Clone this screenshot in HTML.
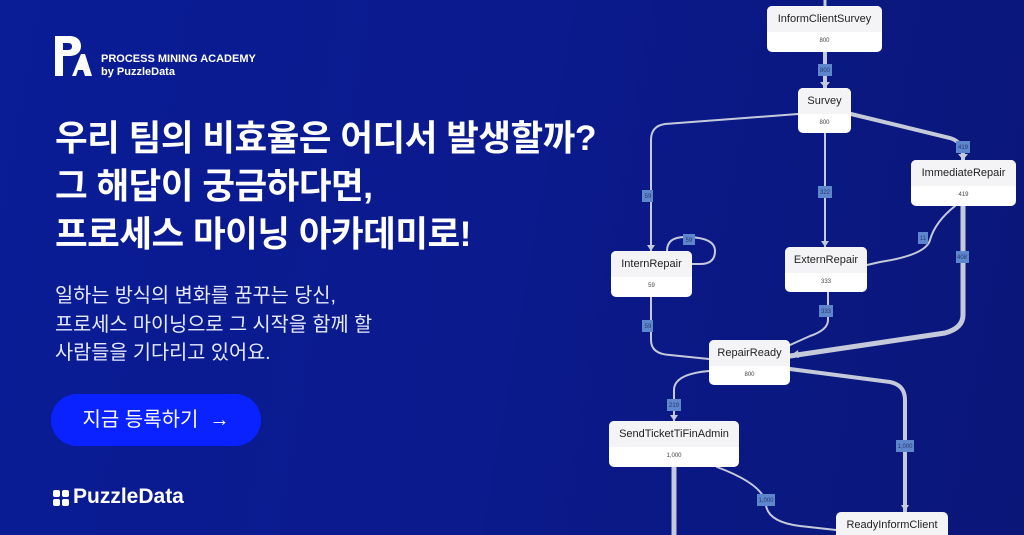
<!DOCTYPE html>
<html style="overflow:hidden"><head><meta charset="utf-8"><style>
html,body{margin:0;width:1024px;height:535px;overflow:hidden}
body{background:linear-gradient(100deg,#0a1c96 0%,#0b1a8c 50%,#0a1678 100%);font-family:"Liberation Sans","Noto Sans CJK KR",sans-serif;color:#fff;position:relative}
.abs{position:absolute}
.h{left:55px;top:114px;font-size:35.5px;font-weight:bold;line-height:48px;letter-spacing:-0.5px;margin:0;white-space:nowrap}
.s{left:55px;top:282px;font-size:19.7px;line-height:28.5px;color:#e8ebff;white-space:nowrap}
.btn{left:51px;top:394px;width:210px;height:52px;border-radius:26px;background:#0a22ff;font-size:20px;line-height:52px;text-align:center}
.node{position:absolute;background:#fff;border-radius:5px;color:#222;text-align:center;overflow:hidden}
.node .t{background:#f4f4f6;font-size:11px;line-height:26px;height:26px}
.node .c{font-size:6px;line-height:18px;color:#444}
</style></head><body>
<svg class="abs" style="left:52px;top:34px" width="40" height="44" viewBox="0 0 40 44">
<path d="M3 2h14c9 0 12 5 12 10s-3 10-12 10h-6v20H3z M11 9v7h5c3 0 4-1.5 4-3.5S19 9 16 9z" fill="#fff" fill-rule="evenodd"/>
<path d="M20 42l9-22h4l7 22h-7l-2-6h-5l-2 6z" fill="#fff"/>
</svg>
<div class="abs" style="left:101px;top:53px;font-size:11px;line-height:13px;font-weight:bold">PROCESS MINING ACADEMY<br>by PuzzleData</div>
<div class="abs h">우리 팀의 비효율은 어디서 발생할까?<br>그 해답이 궁금하다면,<br>프로세스 마이닝 아카데미로!</div>
<div class="abs s">일하는 방식의 변화를 꿈꾸는 당신,<br>프로세스 마이닝으로 그 시작을 함께 할<br>사람들을 기다리고 있어요.</div>
<div class="abs btn">지금 등록하기 &nbsp;→</div>
<div class="abs" style="left:53px;top:490px;width:16px;height:16px">
<div class="abs" style="left:0;top:0;width:7px;height:7px;background:#fff;border-radius:2px"></div>
<div class="abs" style="left:9px;top:0;width:7px;height:7px;background:#fff;border-radius:2px"></div>
<div class="abs" style="left:0;top:9px;width:7px;height:7px;background:#fff;border-radius:2px"></div>
<div class="abs" style="left:9px;top:9px;width:7px;height:7px;background:#fff;border-radius:2px"></div></div>
<div class="abs" style="left:73px;top:485px;font-size:21px;font-weight:bold">PuzzleData</div>

<svg class="abs" style="left:0;top:0" width="1024" height="535" fill="none" stroke="#c5cadb" stroke-linecap="round">
<path d="M825 0v6" stroke-width="3"/>
<path d="M825 52v36" stroke-width="4"/>
<path d="M798 114 L665 124 Q651 126 651 140 V251" stroke-width="2"/>
<path d="M825 133V247" stroke-width="2"/>
<path d="M851 114 L950 138 Q963 142 963 155V160" stroke-width="4"/>
<path d="M955 206 Q935 222 930 240 Q926 255 880 262 L867 265" stroke-width="2"/>
<path d="M963 206V315 Q963 328 945 333 L790 356" stroke-width="5"/>
<path d="M667 251 Q667 237 685 237 Q715 237 715 251 Q715 264 700 264 H692" stroke-width="2"/>
<path d="M651 297V340 Q651 354 670 355 L709 359" stroke-width="2"/>
<path d="M828 292V320 Q828 330 810 336 L790 345" stroke-width="2"/>
<path d="M709 371 Q674 374 674 390V421" stroke-width="2"/>
<path d="M790 369 L890 382 Q905 385 905 400V511" stroke-width="4"/>
<path d="M717 467 Q765 485 766 505 Q768 522 800 526 L836 530" stroke-width="2"/>
<path d="M674 467V535" stroke-width="5"/>
<g fill="#c5cadb" stroke="none">
<path d="M820 82h10l-5 6z"/><path d="M958 154h10l-5 6z"/><path d="M821 241h8l-4 6z"/><path d="M647 245h8l-4 6z"/>
<path d="M901 505h8l-4 6z"/><path d="M670 415h8l-4 6z"/><path d="M790 356l8-6 1 8z"/>
</g>
<g fill="#5d86cc" stroke="none">
<rect x="818" y="64" width="14" height="12"/><rect x="956" y="141" width="14" height="12"/>
<rect x="642" y="190" width="11" height="12"/><rect x="818" y="186" width="14" height="12"/>
<rect x="918" y="232" width="10" height="12"/><rect x="956" y="251" width="13" height="12"/>
<rect x="683" y="234" width="12" height="11"/><rect x="642" y="320" width="11" height="12"/>
<rect x="819" y="305" width="14" height="12"/><rect x="667" y="399" width="14" height="12"/>
<rect x="896" y="440" width="18" height="12"/><rect x="757" y="494" width="18" height="12"/>
</g>
<g fill="#2a3a70" stroke="none" font-size="6" font-family="Liberation Sans" text-anchor="middle">
<text x="825" y="72">800</text><text x="963" y="149">419</text><text x="648" y="198">59</text>
<text x="825" y="194">322</text><text x="923" y="240">11</text><text x="962" y="259">408</text>
<text x="689" y="242">59</text><text x="648" y="328">59</text><text x="826" y="313">333</text>
<text x="674" y="407">219</text><text x="905" y="448">1,000</text><text x="766" y="502">1,000</text>
</g>
</svg>
<div class="node" style="left:767px;top:6px;width:115px;height:46px"><div class="t">InformClientSurvey</div><div class="c">800</div></div>
<div class="node" style="left:798px;top:88px;width:53px;height:45px"><div class="t">Survey</div><div class="c">800</div></div>
<div class="node" style="left:911px;top:160px;width:105px;height:46px"><div class="t">ImmediateRepair</div><div class="c">419</div></div>
<div class="node" style="left:611px;top:251px;width:81px;height:46px"><div class="t">InternRepair</div><div class="c">59</div></div>
<div class="node" style="left:785px;top:247px;width:82px;height:45px"><div class="t">ExternRepair</div><div class="c">333</div></div>
<div class="node" style="left:709px;top:340px;width:81px;height:45px"><div class="t">RepairReady</div><div class="c">800</div></div>
<div class="node" style="left:609px;top:421px;width:130px;height:46px"><div class="t">SendTicketTiFinAdmin</div><div class="c">1,000</div></div>
<div class="node" style="left:836px;top:512px;width:112px;height:23px;border-radius:5px 5px 0 0"><div class="t">ReadyInformClient</div></div>
</body></html>
